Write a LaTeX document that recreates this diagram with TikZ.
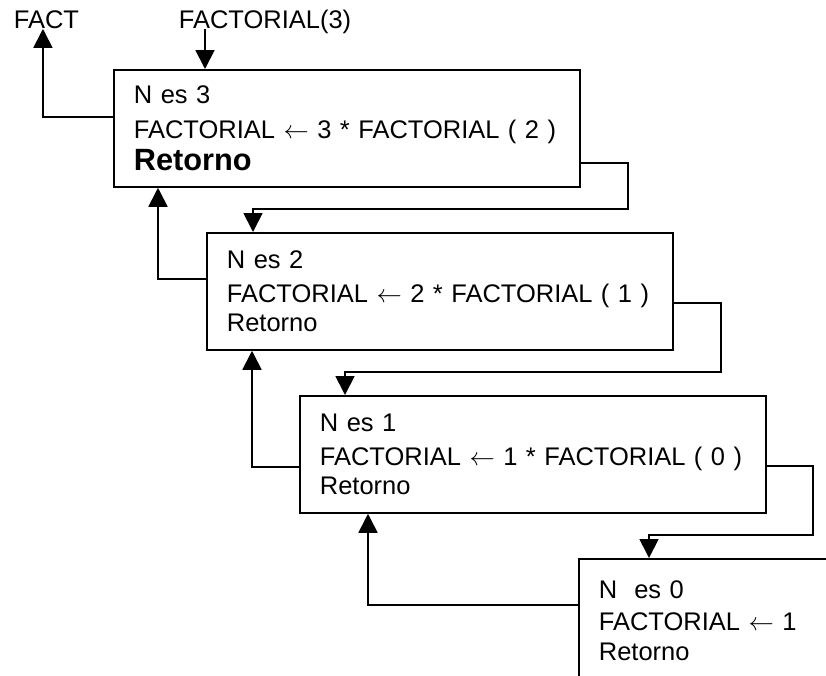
\documentclass[tikz,border=0pt]{standalone}
\usepackage{fontspec}
\setmainfont{Liberation Sans}
\usepackage{tikz}
\usetikzlibrary{arrows.meta, positioning, calc}

\begin{document}
\begin{tikzpicture}[
        line width=1pt,
        caja/.style={rectangle, draw=black, anchor=north west, text width=8.52cm, inner xsep=0.4cm, inner ysep=0pt, align=left, minimum width=9.32cm, minimum height=2.34cm, font=\fontsize{14.5}{16.4}\selectfont},
        etiqueta/.style={anchor=base west, inner sep=0pt, text depth=0pt, font=\fontsize{14.5}{16.4}\selectfont},
        flecha/.style={draw, -{Triangle[width=0.38cm, length=0.38cm]}}
    ]

        % ================= MARCO =================
        \useasboundingbox (0, 0) rectangle (16.52, -13.5);
        \clip (0, 0) rectangle (16.52, -13.5);

        % ================= LLAMADAS RECURSIVAS =================
        \node[etiqueta] (fact) at (0.26, -0.56) {FACT};
        \node[etiqueta] (fact3) at (3.56, -0.56) {FACTORIAL(3)};

        \node[caja] (n3) at (2.26, -1.38) {N es 3\\[3.5pt]FACTORIAL $\leftarrow$ 3 * FACTORIAL ( 2 )\\[1.8pt]{\fontsize{17.5}{16.4}\selectfont\bfseries Retorno}};
        \node[caja] (n2) at (4.12, -4.64) {N es 2\\[2.9pt]FACTORIAL $\leftarrow$ 2 * FACTORIAL ( 1 )\\Retorno};
        \node[caja] (n1) at (5.98, -7.90) {N es 1\\[2.9pt]FACTORIAL $\leftarrow$ 1 * FACTORIAL ( 0 )\\Retorno};
        \node[caja, minimum height=2.48cm] (n0) at (11.56, -11.16) {N\ \ es 0\\[1.7pt]FACTORIAL $\leftarrow$ 1\\[0.6pt]Retorno};

        % Llamada inicial
        \coordinate (llamada) at ([xshift=1.84cm]n3.north west);
        \path[flecha] (llamada |- fact3.south) -- (llamada);

        % Bajada: cada caso llama al siguiente
        \path[flecha] ([yshift=-0.69cm]n3.east) -- ++(0.94, 0) |- ([xshift=0.94cm, yshift=0.46cm]n2.north west) -- ([xshift=0.94cm]n2.north west);
        \path[flecha] ([yshift=-0.23cm]n2.east) -- ++(0.94, 0) |- ([xshift=0.92cm, yshift=0.46cm]n1.north west) -- ([xshift=0.92cm]n1.north west);
        \path[flecha] ([yshift=-0.23cm]n1.east) -- ++(0.92, 0) |- ([xshift=1.42cm, yshift=0.46cm]n0.north west) -- ([xshift=1.42cm]n0.north west);

        % Subida: retorno de valores
        \path[flecha] ([yshift=-0.94cm]n0.north west) -| ([xshift=1.38cm]n1.south west);
        \path[flecha] ([yshift=-0.25cm]n1.west) -| ([xshift=0.92cm]n2.south west);
        \path[flecha] ([yshift=0.25cm]n2.west) -| ([xshift=0.9cm]n3.south west);
        \path[flecha] ([yshift=0.23cm]n3.west) -| ([xshift=-0.07cm]fact.south);

    \end{tikzpicture}
\end{document}
